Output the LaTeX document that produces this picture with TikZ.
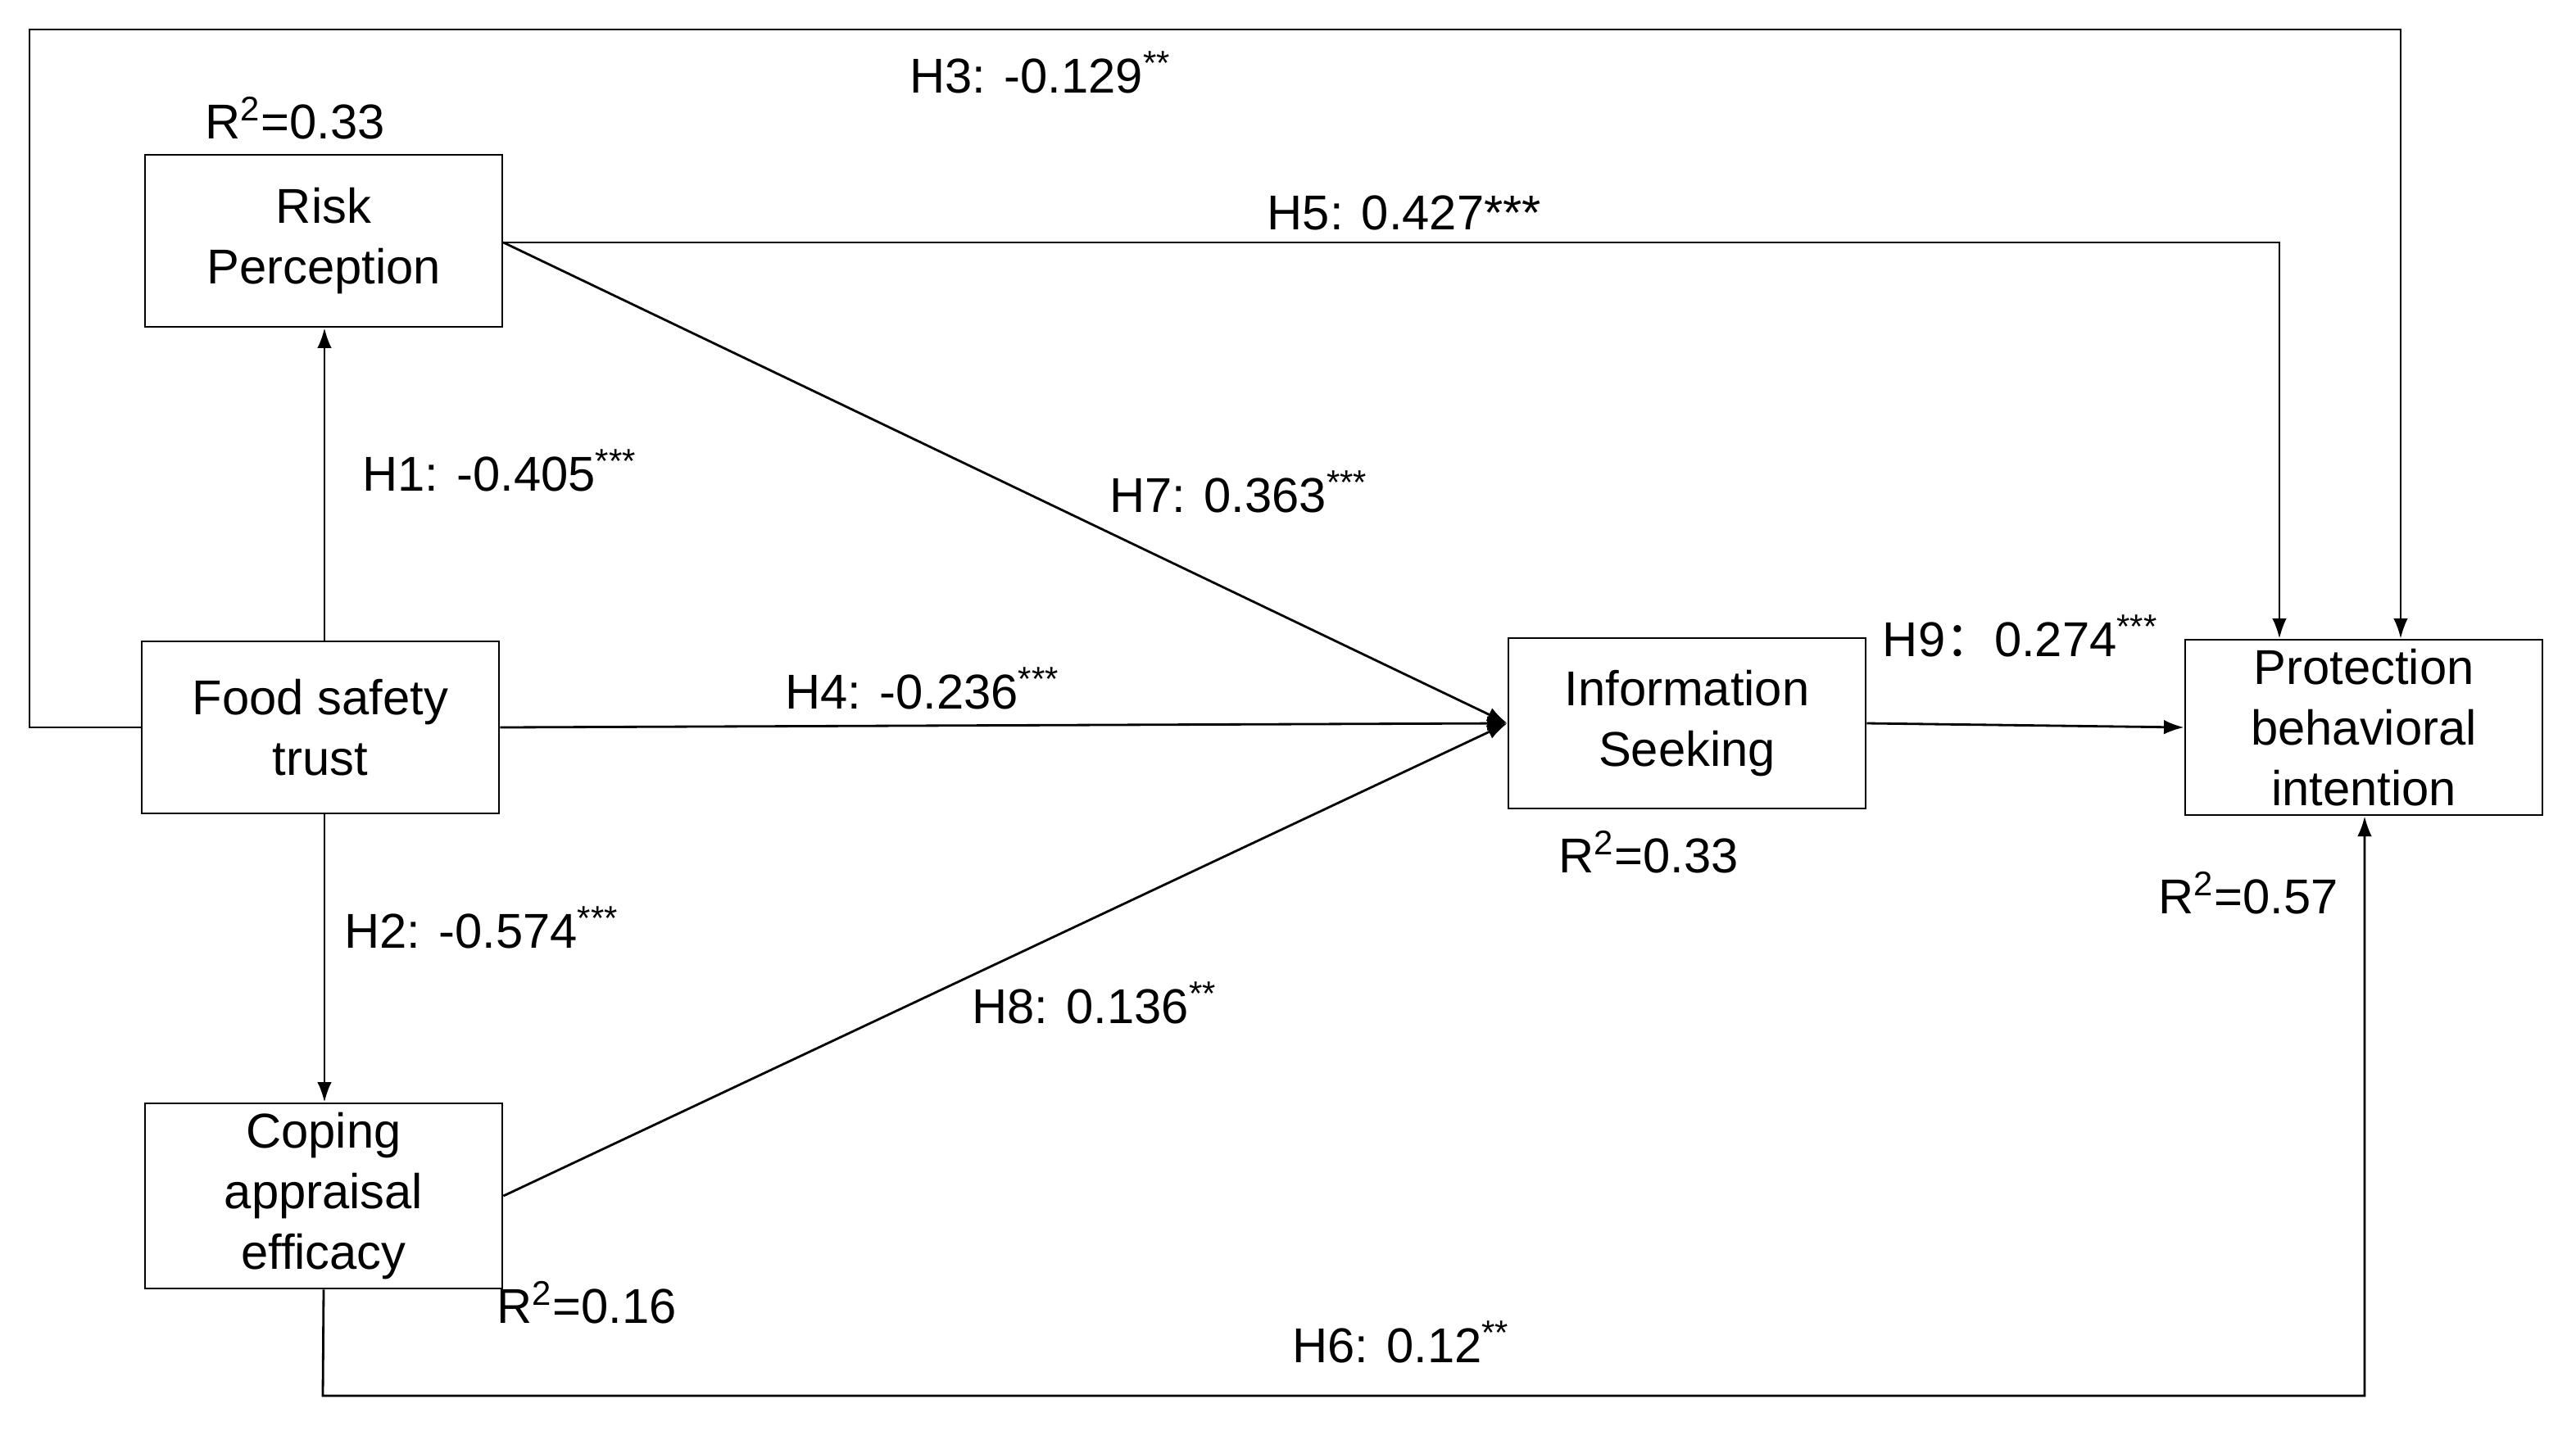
\documentclass[tikz,border=0pt]{standalone}
\usepackage{fontspec}
\setmainfont{Liberation Sans}
\newfontfamily\cjk{Noto Sans CJK SC}
\usetikzlibrary{arrows.meta}
\begin{document}
\begin{tikzpicture}[x=0.02cm,y=-0.02cm,
  box/.style={draw,line width=0.8pt,align=center,inner sep=0pt,font=\fontsize{17}{21}\selectfont},
  lab/.style={font=\fontsize{17}{20}\selectfont},
  conn/.style={line width=0.8pt,-{Latex[length=7pt,width=5pt]}}]
\useasboundingbox (0,0) rectangle (1572,873);
\fill[white] (0,0) rectangle (1572,873);
\node[box,minimum width=4.36cm,minimum height=2.1cm] (rp) at (197.5,147) {Risk\\Perception};
\node[box,minimum width=4.36cm,minimum height=2.1cm] (fs) at (195.5,444) {Food safety\\trust};
\node[box,minimum width=4.36cm,minimum height=2.26cm] (ca) at (197.5,730) {Coping\\appraisal\\efficacy};
\node[box,minimum width=4.36cm,minimum height=2.08cm] (is) at (1029.5,441.5) {Information\\Seeking};
\node[box,minimum width=4.36cm,minimum height=2.14cm] (pb) at (1442.5,444) {Protection\\behavioral\\intention};
\coordinate (c1) at (18,444);
\coordinate (c2) at (18,18);
\coordinate (c3) at (1465,18);
\coordinate (c4) at (1391,148);
\coordinate (c5) at (197,852);
\coordinate (c6) at (1443,852);
\draw[conn] (fs.west) -- (c1) -- (c2) -- (c3) -- (c3 |- pb.north);
\draw[conn] (rp.east |- c4) -- (c4) -- (c4 |- pb.north);
\draw[conn] (rp.east |- c4) -- (is.west);
\draw[conn] (fs.east) -- (is.west);
\draw[conn] (ca.east) -- (is.west);
\draw[conn] (fs.north -| 198,0) -- (rp.south -| 198,0);
\draw[conn] (fs.south -| 198,0) -- (ca.north -| 198,0);
\draw[conn] (is.east) -- (pb.west);
\draw[conn] (ca.south) -- (c5) -- (c6) -- (pb.south -| c6);
\node[lab] (l1) at (180,72) {R\textsuperscript{2}=0.33};
\node[lab] (l2) at (635,44) {H3: -0.129\textsuperscript{**}};
\node[lab] (l3) at (857,130) {H5: 0.427***};
\node[lab] (l4) at (305,287) {H1: -0.405\textsuperscript{***}};
\node[lab] (l5) at (756,300) {H7: 0.363\textsuperscript{***}};
\node[lab] (l6) at (563,420) {H4: -0.236\textsuperscript{***}};
\node[lab] (l7) at (1233,388) {H9{\cjk ：}0.274\textsuperscript{***}};
\node[lab] (l8) at (294,566) {H2: -0.574\textsuperscript{***}};
\node[lab] (l9) at (668,612) {H8: 0.136\textsuperscript{**}};
\node[lab] (l10) at (1006,520) {R\textsuperscript{2}=0.33};
\node[lab] (l11) at (1372,545) {R\textsuperscript{2}=0.57};
\node[lab] (l12) at (358,795) {R\textsuperscript{2}=0.16};
\node[lab] (l13) at (855,819) {H6: 0.12\textsuperscript{**}};
\end{tikzpicture}
\end{document}
